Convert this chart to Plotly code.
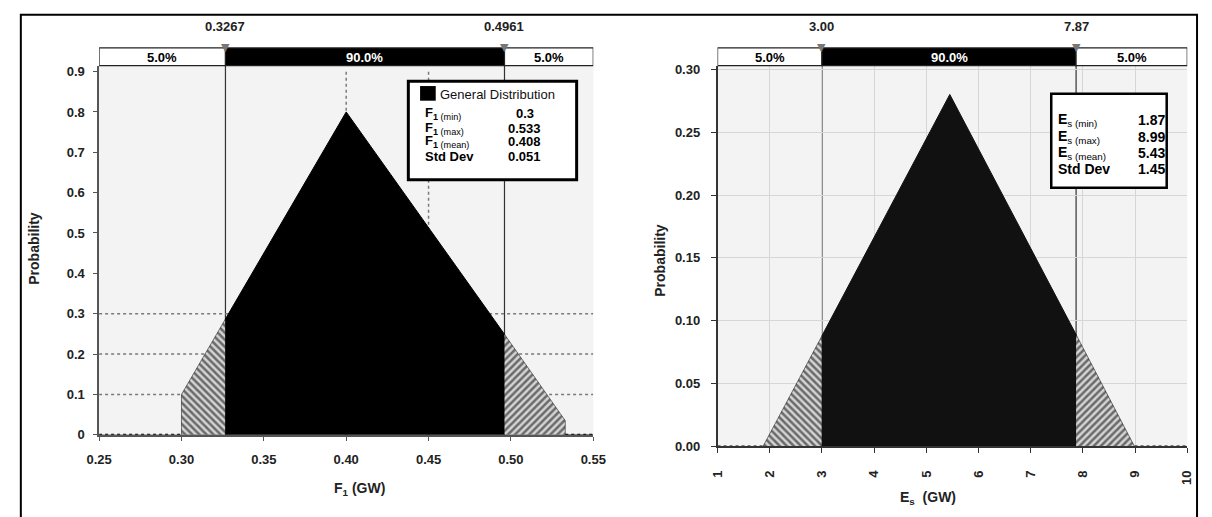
import plotly.graph_objects as go

W, H = 1212, 517
FONT = "Liberation Sans, Arial, sans-serif"

# ---------------- data ----------------
# Left panel: F1 distribution (GW) - outline vertices
f1_x = [0.30, 0.30, 0.3267, 0.40, 0.4961, 0.533, 0.533]
f1_p = [0.0, 0.10, 0.287, 0.80, 0.249, 0.035, 0.0]
f1_cuts = [0.3267, 0.4961]
f1_cut_labels = ["0.3267", "0.4961"]
f1_range = [0.25, 0.55]
f1_ticks = [0.25, 0.30, 0.35, 0.40, 0.45, 0.50, 0.55]
f1_yticks = [0, 0.1, 0.2, 0.3, 0.4, 0.5, 0.6, 0.7, 0.8, 0.9]
f1_ytext = ["0", "0.1", "0.2", "0.3", "0.4", "0.5", "0.6", "0.7", "0.8", "0.9"]
f1_hgrid = [0.1, 0.2, 0.3]
f1_vgrid = [0.40, 0.45]
f1_stat_names = ["(min)", "(max)", "(mean)"]
f1_stat_values = ["0.3", "0.533", "0.408", "0.051"]

# Right panel: Es distribution (GW)
es_x = [1.87, 3.00, 5.45, 7.87, 8.99]
es_p = [0.0, 0.088, 0.28, 0.089, 0.0]
es_cuts = [3.00, 7.87]
es_cut_labels = ["3.00", "7.87"]
es_range = [1, 10]
es_ticks = [1, 2, 3, 4, 5, 6, 7, 8, 9, 10]
es_yticks = [0, 0.05, 0.10, 0.15, 0.20, 0.25, 0.30]
es_stat_values = ["1.87", "8.99", "5.43", "1.45"]

pct_labels = ["5.0%", "90.0%", "5.0%"]


def px(x):
    return x / W


def py(y):
    return 1 - y / H


def region(xs, ps, a, b):
    sx, sp = [], []
    for x, p in zip(xs, ps):
        if a - 1e-9 <= x <= b + 1e-9:
            sx.append(x)
            sp.append(p)
    sx += [b, a]
    sp += [0, 0]
    return sx, sp


fig = go.Figure()

panels = [
    dict(xs=f1_x, ps=f1_p, cuts=f1_cuts, rng=f1_range, xa="x", ya="y", mid="black"),
    dict(xs=es_x, ps=es_p, cuts=es_cuts, rng=es_range, xa="x2", ya="y2", mid="#111111"),
]

for pn in panels:
    lo, hi = pn["rng"]
    c1, c2 = pn["cuts"]
    x, p = region(pn["xs"], pn["ps"], lo, c1)
    fig.add_trace(go.Scatter(x=x, y=p, xaxis=pn["xa"], yaxis=pn["ya"], fill="toself", mode="lines",
                             line=dict(color="black", width=0.5),
                             fillcolor="rgba(0,0,0,0)",
                             fillpattern=dict(shape="\\", fgcolor="black", bgcolor="#d4d4d4",
                                              size=5, solidity=0.5),
                             hoverinfo="skip", showlegend=False))
    x, p = region(pn["xs"], pn["ps"], c1, c2)
    fig.add_trace(go.Scatter(x=x, y=p, xaxis=pn["xa"], yaxis=pn["ya"], fill="toself", mode="lines",
                             line=dict(color=pn["mid"], width=1), fillcolor=pn["mid"],
                             hoverinfo="skip", showlegend=False))
    x, p = region(pn["xs"], pn["ps"], c2, hi)
    fig.add_trace(go.Scatter(x=x, y=p, xaxis=pn["xa"], yaxis=pn["ya"], fill="toself", mode="lines",
                             line=dict(color="black", width=0.5),
                             fillcolor="rgba(0,0,0,0)",
                             fillpattern=dict(shape="/", fgcolor="black", bgcolor="#d4d4d4",
                                              size=5, solidity=0.5),
                             hoverinfo="skip", showlegend=False))
    fig.add_trace(go.Scatter(x=[lo, pn["xs"][0]], y=[0, 0], xaxis=pn["xa"], yaxis=pn["ya"], mode="lines",
                             line=dict(color="black", width=2, dash="dot"), hoverinfo="skip",
                             showlegend=False))
    fig.add_trace(go.Scatter(x=[pn["xs"][-1], hi], y=[0, 0], xaxis=pn["xa"], yaxis=pn["ya"], mode="lines",
                             line=dict(color="black", width=2, dash="dot"), hoverinfo="skip",
                             showlegend=False))

shapes = []
annotations = []


def ann(**kw):
    kw.setdefault("xanchor", "center")
    kw.setdefault("yanchor", "middle")
    kw.setdefault("showarrow", False)
    annotations.append(kw)


for g in f1_hgrid:
    shapes.append(dict(type="line", xref="x", yref="y", x0=f1_range[0], x1=f1_range[1], y0=g, y1=g,
                       line=dict(color="#7a7a7a", width=1.5, dash="dot"), layer="below"))
for g in f1_vgrid:
    shapes.append(dict(type="line", xref="x", yref="y", x0=g, x1=g, y0=0, y1=0.9,
                       line=dict(color="#7a7a7a", width=1.5, dash="dot"), layer="below"))

BAR_TOP, BAR_BOT = 45, 63
bar_specs = [
    (f1_range, f1_cuts, f1_cut_labels, "x", 441),
    (es_range, es_cuts, es_cut_labels, "x2", 453),
]
for rng, cuts, labels, xr, ybase in bar_specs:
    edges = [rng[0], cuts[0], cuts[1], rng[1]]
    fills = ["white", "black", "white"]
    for i in range(3):
        shapes.append(dict(type="rect", xref=xr, yref="paper", x0=edges[i], x1=edges[i + 1],
                           y0=py(BAR_BOT), y1=py(BAR_TOP), fillcolor=fills[i],
                           line=dict(color="#222", width=1.2)))
        ann(xref=xr, yref="paper", x=(edges[i] + edges[i + 1]) / 2,
            y=py((BAR_TOP + BAR_BOT) / 2 + 1), text="<b>%s</b>" % pct_labels[i],
            font=dict(family=FONT, size=13, color="white" if fills[i] == "black" else "black"))
    for c, lab in zip(cuts, labels):
        shapes.append(dict(type="line", xref=xr, yref="paper", x0=c, x1=c, y0=py(ybase), y1=py(BAR_BOT),
                           line=dict(color="#333", width=1.2), layer="below"))
        ann(xref=xr, yref="paper", x=c, y=py(23), text="<b>%s</b>" % lab,
            font=dict(family=FONT, size=13, color="#222"))
        ann(xref=xr, yref="paper", x=c, y=py(45), text="▼",
            font=dict(family="DejaVu Sans", size=11, color="#777"))

# left stats box
shapes.append(dict(type="rect", xref="paper", yref="paper", x0=px(404), x1=px(576), y0=py(180), y1=py(79),
                   fillcolor="white", line=dict(color="black", width=3)))
shapes.append(dict(type="rect", xref="paper", yref="paper", x0=px(416), x1=px(432), y0=py(99), y1=py(84),
                   fillcolor="black", line=dict(color="black", width=0)))
ann(xref="paper", yref="paper", x=px(434), y=py(93), xanchor="left",
    text="General Distribution", font=dict(family=FONT, size=13, color="#111"))
rows_y = [112, 127, 141, 156]
for i in range(4):
    if i < 3:
        lab = "<b>F</b><sub><b>1</b> %s</sub>" % f1_stat_names[i]
    else:
        lab = "<b>Std Dev</b>"
    ann(xref="paper", yref="paper", x=px(419), y=py(rows_y[i]), xanchor="left",
        text=lab, font=dict(family=FONT, size=13, color="black"))
    ann(xref="paper", yref="paper", x=px(523), y=py(rows_y[i]),
        text="<b>%s</b>" % f1_stat_values[i], font=dict(family=FONT, size=13, color="black"))

# right stats box
shapes.append(dict(type="rect", xref="paper", yref="paper", x0=px(1061), x1=px(1179), y0=py(188), y1=py(92),
                   fillcolor="white", line=dict(color="black", width=2.5)))
rows_y2 = [119, 136, 153, 169]
for i in range(4):
    if i < 3:
        lab = "<b>E</b><sub>s %s</sub>" % f1_stat_names[i]
    else:
        lab = "<b>Std Dev</b>"
    ann(xref="paper", yref="paper", x=px(1066), y=py(rows_y2[i]), xanchor="left",
        text=lab, font=dict(family=FONT, size=14, color="black"))
    ann(xref="paper", yref="paper", x=px(1148), y=py(rows_y2[i]), xanchor="left",
        text="<b>%s</b>" % es_stat_values[i], font=dict(family=FONT, size=14, color="black"))

# axis titles
ann(xref="paper", yref="paper", x=px(22), y=py(250), text="<b>Probability</b>", textangle=-90,
    font=dict(family=FONT, size=14, color="#222"))
ann(xref="paper", yref="paper", x=px(661), y=py(262), text="<b>Probability</b>", textangle=-90,
    font=dict(family=FONT, size=14, color="#222"))
ann(xref="paper", yref="paper", x=px(354), y=py(497), text="<b>F<sub>1</sub> (GW)</b>",
    font=dict(family=FONT, size=14, color="#222"))
ann(xref="paper", yref="paper", x=px(935), y=py(506), text="<b>E<sub>s</sub>  (GW)</b>",
    font=dict(family=FONT, size=14, color="#222"))

# outer frame
shapes.append(dict(type="rect", xref="paper", yref="paper", x0=px(8), x1=px(1210), y0=-0.02, y1=py(11),
                   line=dict(color="black", width=2), fillcolor="rgba(0,0,0,0)"))

tickfont = dict(family=FONT, size=13, color="#222", weight="bold")
fig.update_layout(
    width=W, height=H, margin=dict(l=0, r=0, t=0, b=0),
    paper_bgcolor="white", showlegend=False,
    xaxis=dict(domain=[px(88), px(593)], range=f1_range, tickvals=f1_ticks, tickformat=".2f",
               showgrid=False, zeroline=False, showline=True, linecolor="#555", linewidth=1.5,
               ticks="outside", ticklen=4, tickcolor="#555", tickfont=tickfont, ticklabelstandoff=8,
               anchor="y"),
    yaxis=dict(domain=[py(441), py(63)], range=[0, 0.915], tickvals=f1_yticks, ticktext=f1_ytext,
               showgrid=False, zeroline=False, showline=True, linecolor="#555", linewidth=1.5,
               ticks="outside", ticklen=4, tickcolor="#555", tickfont=tickfont, ticklabelstandoff=6,
               anchor="x"),
    xaxis2=dict(domain=[px(720), px(1200)], range=es_range, tickvals=es_ticks, tickangle=-90,
                showgrid=True, gridcolor="#d6d6d6", gridwidth=1, zeroline=False, showline=True,
                linecolor="#333", linewidth=1.5, ticks="outside", ticklen=5, tickcolor="#333",
                tickfont=tickfont, ticklabelstandoff=12, anchor="y2"),
    yaxis2=dict(domain=[py(453), py(63)], range=[0, 0.303], tickvals=es_yticks, tickformat=".2f",
                showgrid=True, gridcolor="#d6d6d6", gridwidth=1, zeroline=False, showline=True,
                linecolor="#333", linewidth=1.5, ticks="outside", ticklen=5, tickcolor="#333",
                tickfont=tickfont, ticklabelstandoff=8, anchor="x2"),
    plot_bgcolor="#f3f3f3",
    shapes=shapes, annotations=annotations,
)

fig.write_html("out.html")
